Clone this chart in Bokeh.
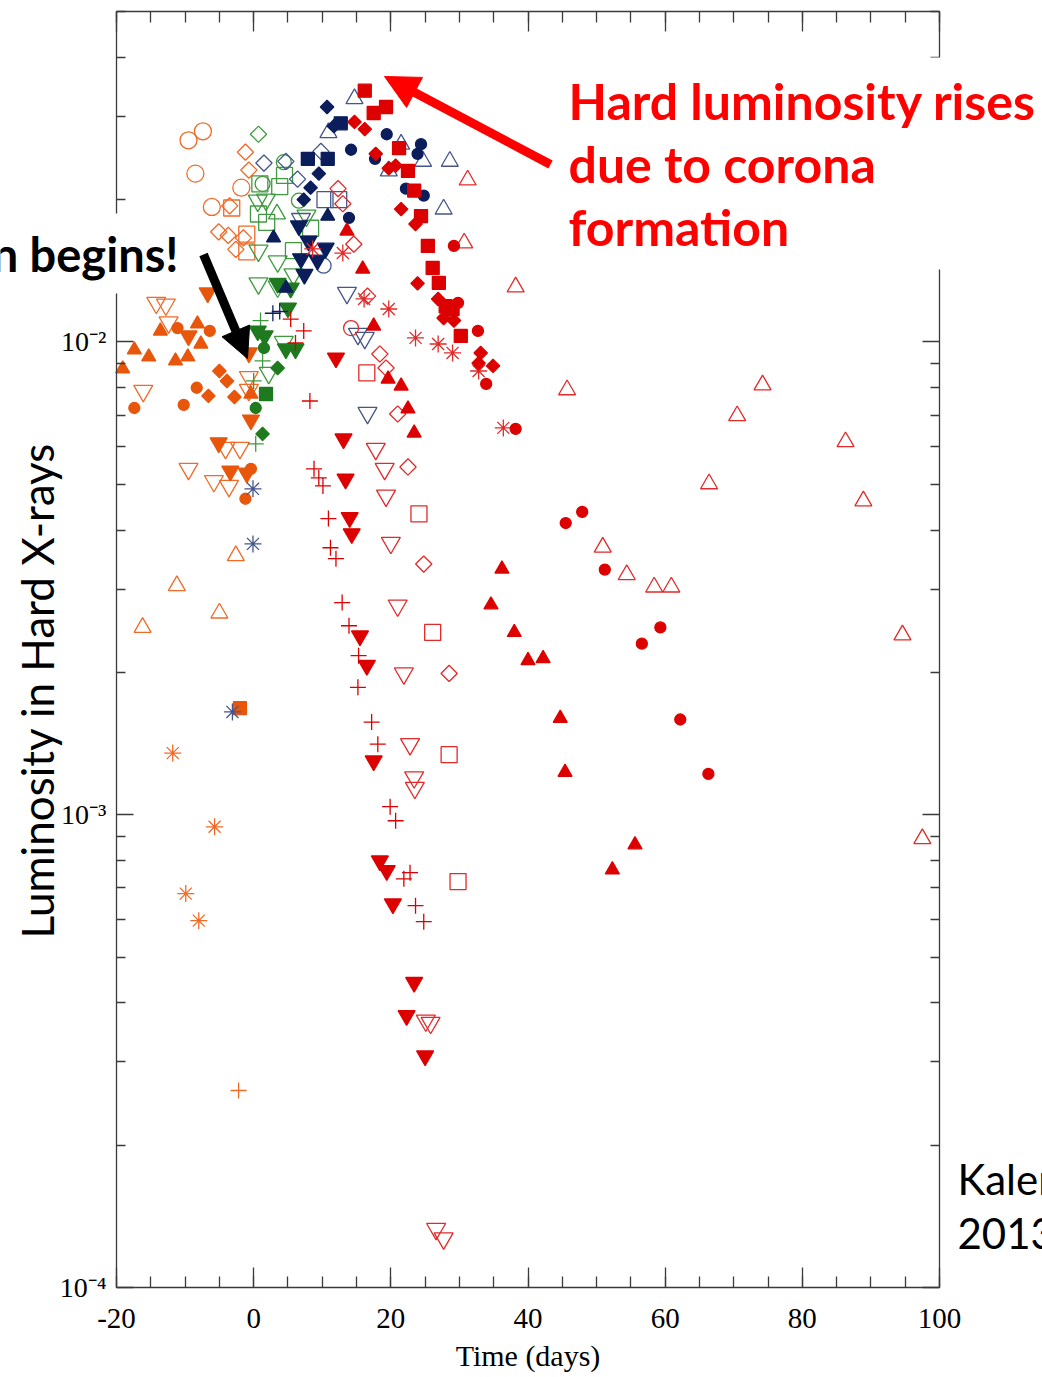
import numpy as np
from bokeh.plotting import figure
from bokeh.models import LinearAxis, LogAxis, FixedTicker, Label, Arrow, NormalHead, Range1d
from bokeh.embed import file_html
from bokeh.resources import INLINE

# ---------------- data (days, luminosity) ----------------
# orange
or_circle_open_x = [-9.5, -7.4, -8.5, -1.8, -6.1]
or_circle_open_y = [0.0267, 0.0279, 0.0227, 0.0212, 0.0193]
or_diamond_open_x = [-1.2, -0.7, -3.5, -5.1, -3.7, -2.6, -1.5]
or_diamond_open_y = [0.0252, 0.0231, 0.0194, 0.0171, 0.0168, 0.0157, 0.0166]
or_square_open_x = [-3.2, -1.0, -1.0]
or_square_open_y = [0.0192, 0.0169, 0.0155]
or_invtri_open_x = [-18.0, -14.2, -12.8, -12.4, -16.1, -9.5, -5.8, -3.6, -4.1, -2.0, -0.7, -0.7]
or_invtri_open_y = [0.0181, 0.0121, 0.0120, 0.0110, 0.00788, 0.00539, 0.00508, 0.00496, 0.00597, 0.00597, 0.00843, 0.00792]
or_invtri_fill_x = [-9.5, -6.7, -5.1, -3.4, -1.0, -0.4, -0.7]
or_invtri_fill_y = [0.0103, 0.0127, 0.00612, 0.00533, 0.00528, 0.00684, 0.00948]
or_tri_fill_x = [-19.1, -17.4, -15.3, -13.6, -11.4, -9.6, -8.2, -7.7, -0.4]
or_tri_fill_y = [0.00877, 0.00962, 0.0093, 0.01055, 0.00912, 0.0093, 0.01092, 0.0099, 0.00776]
or_circle_fill_x = [-11.1, -6.4, -8.3, -17.4, -10.2, -0.4, -1.2]
or_circle_fill_y = [0.0107, 0.01055, 0.0080, 0.00725, 0.00736, 0.00539, 0.00466]
or_diamond_fill_x = [-5.0, -3.9, -6.6, -2.8]
or_diamond_fill_y = [0.00868, 0.00827, 0.00769, 0.00765]
or_square_fill_x = [-2.0]
or_square_fill_y = [0.00168]
or_tri_open_x = [-2.6, -11.2, -5.0, -16.2]
or_tri_open_y = [0.00353, 0.00305, 0.00267, 0.00249]
or_star_x = [-11.8, -5.7, -9.9, -8.0]
or_star_y = [0.00135, 0.000943, 0.000681, 0.000597]
or_plus_x = [-2.2]
or_plus_y = [0.000261]

# green
gr_diamond_open_x = [0.7]
gr_diamond_open_y = [0.0275]
gr_square_open_x = [4.5, 0.9, 3.8, 0.7, 1.9, 5.8, 8.3]
gr_square_open_y = [0.0225, 0.0216, 0.0213, 0.01865, 0.0179, 0.0156, 0.0174]
gr_circle_open_x = [4.4, 1.3, 6.6]
gr_circle_open_y = [0.0240, 0.0216, 0.0199]
gr_tri_open_x = [3.4]
gr_tri_open_y = [0.01865]
gr_invtri_open_x = [0.6, 1.8, 0.7, 3.5, 5.8, 0.7, 3.5, 4.4, 2.2, 7.7]
gr_invtri_open_y = [0.0199, 0.0200, 0.0156, 0.0148, 0.0139, 0.0133, 0.0131, 0.0100, 0.0086, 0.0185]
gr_invtri_fill_x = [3.5, 5.4, 5.0, 0.6, 6.1, 4.7, 1.6]
gr_invtri_fill_y = [0.0133, 0.0130, 0.0118, 0.01055, 0.00967, 0.00967, 0.0103]
gr_circle_fill_x = [1.5, 0.3]
gr_circle_fill_y = [0.00971, 0.00725]
gr_diamond_fill_x = [3.5, 1.3]
gr_diamond_fill_y = [0.00881, 0.00639]
gr_square_fill_x = [1.8]
gr_square_fill_y = [0.00776]
gr_plus_x = [1.0, 0.3, 0.0, 1.3]
gr_plus_y = [0.0111, 0.00609, 0.00827, 0.00912]

# navy
nv_diamond_fill_x = [10.7, 9.5, 8.3, 7.3, 11.7]
nv_diamond_fill_y = [0.0314, 0.0227, 0.0212, 0.0200, 0.0286]
nv_square_fill_x = [7.9, 10.8, 12.7]
nv_square_fill_y = [0.0244, 0.0244, 0.0290]
nv_circle_fill_x = [14.2, 19.4, 24.4, 23.9, 22.2, 24.8, 13.9, 17.7]
nv_circle_fill_y = [0.0255, 0.0275, 0.0262, 0.0250, 0.0211, 0.0204, 0.0183, 0.0244]
nv_tri_open_x = [14.7, 10.9, 21.5, 24.7, 19.7, 28.6, 27.7]
nv_tri_open_y = [0.0327, 0.0277, 0.0262, 0.0241, 0.0230, 0.0241, 0.0191]
nv_diamond_open_x = [1.5, 6.4, 9.8, 4.7]
nv_diamond_open_y = [0.0239, 0.0221, 0.0253, 0.0241]
nv_square_open_x = [10.4, 12.4]
nv_square_open_y = [0.0200, 0.0200]
nv_circle_open_x = [10.2]
nv_circle_open_y = [0.0145]
nv_invtri_open_x = [6.9, 13.6, 15.2, 16.2, 16.6]
nv_invtri_open_y = [0.0182, 0.0127, 0.0104, 0.0102, 0.00708]
nv_invtri_fill_x = [6.6, 8.0, 10.5, 6.9, 9.3, 7.4]
nv_invtri_fill_y = [0.0176, 0.01635, 0.0158, 0.0150, 0.0149, 0.0139]
nv_tri_fill_x = [2.9, 10.8, 4.7]
nv_tri_fill_y = [0.0166, 0.01846, 0.0130]
nv_plus_x = [2.8, 3.8]
nv_plus_y = [0.0115, 0.0116]
nv_star_x = [-0.1, -0.1, -3.1]
nv_star_y = [0.00489, 0.00374, 0.00165]

# red
rd_square_fill_x = [16.2, 17.5, 19.3, 21.2, 22.5, 23.4, 24.4, 25.4, 26.1, 27.0, 28.0, 29.0, 30.2]
rd_square_fill_y = [0.0340, 0.0305, 0.0314, 0.0257, 0.0230, 0.0209, 0.01846, 0.01596, 0.01434, 0.01333, 0.0119, 0.01174, 0.0103]
rd_diamond_fill_x = [14.7, 16.2, 17.8, 20.7, 19.7, 21.5, 23.6, 23.9, 26.9, 27.7, 29.2, 33.1, 34.9, 32.8]
rd_diamond_fill_y = [0.0292, 0.0282, 0.0250, 0.0236, 0.0233, 0.0191, 0.01776, 0.0133, 0.01233, 0.01124, 0.0111, 0.00948, 0.0089, 0.00902]
rd_circle_fill_x = [29.2, 32.7, 29.8, 33.9, 38.2, 45.5, 47.9, 51.2, 59.3, 56.6, 62.2, 66.3]
rd_circle_fill_y = [0.01596, 0.01055, 0.0121, 0.00815, 0.00655, 0.00414, 0.00437, 0.0033, 0.00249, 0.0023, 0.00159, 0.00122]
rd_tri_fill_x = [13.6, 15.9, 17.5, 19.6, 21.5, 22.5, 23.4, 36.2, 34.6, 38.0, 40.0, 42.2, 44.7, 45.4, 55.6, 52.3]
rd_tri_fill_y = [0.01717, 0.01427, 0.01081, 0.00835, 0.00807, 0.00722, 0.00642, 0.00331, 0.00278, 0.00243, 0.00212, 0.00214, 0.0016, 0.00123, 0.000864, 0.000765]
rd_invtri_fill_x = [12.0, 13.1, 13.4, 14.0, 14.3, 15.5, 16.5, 17.5, 18.4, 19.4, 20.3, 23.4, 22.3, 25.0]
rd_invtri_fill_y = [0.00925, 0.00624, 0.00513, 0.00425, 0.00393, 0.00239, 0.00207, 0.0013, 0.000799, 0.000762, 0.000648, 0.000442, 0.000376, 0.000309]
rd_plus_x = [5.4, 7.3, 6.1, 8.2, 8.8, 9.5, 10.1, 10.9, 11.2, 12.0, 12.9, 13.9, 15.3, 15.2, 17.2, 18.1, 19.9, 20.7, 22.8, 21.9, 23.6, 24.8]
rd_plus_y = [0.01118, 0.01055, 0.00995, 0.0075, 0.00539, 0.00516, 0.00496, 0.00423, 0.00367, 0.00348, 0.00281, 0.00251, 0.00217, 0.00186, 0.00157, 0.00141, 0.00104, 0.000971, 0.000754, 0.000732, 0.000642, 0.000594]
rd_star_x = [8.6, 13.0, 16.1, 19.7, 23.6, 26.9, 29.0, 32.8, 36.4]
rd_star_y = [0.01573, 0.01542, 0.01233, 0.01174, 0.0102, 0.0099, 0.00948, 0.00868, 0.00658]
rd_tri_open_x = [31.2, 30.7, 38.2, 45.7, 74.2, 70.5, 86.3, 66.4, 88.9, 50.9, 54.4, 58.4, 60.9, 94.6, 97.5]
rd_tri_open_y = [0.0220, 0.01619, 0.01307, 0.00792, 0.00811, 0.00698, 0.00615, 0.00501, 0.00461, 0.00368, 0.00322, 0.00303, 0.00303, 0.0024, 0.00089]
rd_invtri_open_x = [17.8, 19.1, 19.3, 20.0, 21.0, 21.9, 22.8, 23.4, 23.5, 25.1, 25.8, 26.6, 27.7]
rd_invtri_open_y = [0.00594, 0.00539, 0.00473, 0.00376, 0.00277, 0.00199, 0.00141, 0.0012, 0.00114, 0.000367, 0.000363, 0.000133, 0.000127]
rd_diamond_open_x = [12.3, 13.0, 14.6, 16.6, 18.4, 19.3, 21.0, 22.5, 24.8, 28.5]
rd_diamond_open_y = [0.0211, 0.0196, 0.0161, 0.0125, 0.00943, 0.00881, 0.00704, 0.00544, 0.00339, 0.00199]
rd_square_open_x = [16.5, 24.1, 26.1, 28.5, 29.8]
rd_square_open_y = [0.0086, 0.00433, 0.00243, 0.00134, 0.000722]
rd_circle_open_x = [14.2]
rd_circle_open_y = [0.0107]

x_ticks = [-20, 0, 20, 40, 60, 80, 100]
x_tick_labels = {-20: "-20"}
y_ticks = [1e-4, 1e-3, 1e-2]
y_tick_labels = {1e-4: "10\u207b\u2074", 1e-3: "10\u207b\u00b3", 1e-2: "10\u207b\u00b2"}

# ---------------- layout ----------------
W, H = 1042, 1377
FL, FR, FT, FB = 116, 939, 11, 1287          # plot box in page pixels
XMIN, XMAX = -20, 100
YMIN, YMAX = 1e-4, 0.05
KX = (XMAX - XMIN) / (FR - FL)
KY = (np.log10(YMAX) - np.log10(YMIN)) / (FB - FT)


def X(px):
    return XMIN + (px - FL) * KX


def Y(py):
    return 10 ** (np.log10(YMAX) - (py - FT) * KY)


p = figure(width=W, height=H, x_range=Range1d(X(0), X(W)), y_range=Range1d(Y(H), Y(0)),
           y_axis_type="log", x_axis_location=None, y_axis_location=None,
           output_backend="svg", toolbar_location=None, min_border=0,
           outline_line_color=None, background_fill_color="white",
           border_fill_color="white")
p.grid.visible = False

xt = FixedTicker(ticks=x_ticks, minor_ticks=list(range(-20, 101, 5)))
minor_y = [m * d for d in (1e-4, 1e-3, 1e-2) for m in range(2, 10) if m * d <= YMAX]
yt = FixedTicker(ticks=y_ticks, minor_ticks=minor_y)

AX = "#3a3a3a"


def style(ax, major_in, minor_in):
    ax.axis_line_color = AX
    ax.axis_line_width = 1.3
    ax.major_tick_line_color = AX
    ax.minor_tick_line_color = AX
    ax.major_tick_line_width = 1.3
    ax.minor_tick_line_width = 1.3
    ax.major_tick_in = major_in
    ax.major_tick_out = 0
    ax.minor_tick_in = minor_in
    ax.minor_tick_out = 0


xb = LinearAxis(ticker=xt, fixed_location=YMIN, bounds=(XMIN, XMAX))
style(xb, 20, 11)
xb.major_label_text_font = "Liberation Serif"
xb.major_label_text_font_size = "29px"
xb.major_label_text_color = "black"
xb.major_label_standoff = 21
xb.major_label_overrides = x_tick_labels
xb.axis_label = "Time (days)"
xb.axis_label_text_font = "Liberation Serif"
xb.axis_label_text_font_size = "30px"
xb.axis_label_text_font_style = "normal"
xb.axis_label_text_color = "black"
xb.axis_label_standoff = 8
p.add_layout(xb, "below")

yl = LogAxis(ticker=yt, fixed_location=XMIN, bounds=(YMIN, YMAX))
style(yl, 17, 9)
yl.major_label_text_font = "Liberation Serif"
yl.major_label_text_font_size = "28px"
yl.major_label_text_color = "black"
yl.major_label_standoff = 10
yl.major_label_overrides = y_tick_labels
p.add_layout(yl, "left")

xa = LinearAxis(ticker=xt, fixed_location=YMAX, bounds=(XMIN, XMAX),
                major_label_text_alpha=0, major_label_text_font_size="1px")
style(xa, 20, 11)
p.add_layout(xa, "above")
yr = LogAxis(ticker=yt, fixed_location=XMAX, bounds=(YMIN, YMAX),
             major_label_text_alpha=0, major_label_text_font_size="1px")
style(yr, 17, 9)
p.add_layout(yr, "right")

OR_F, OR_O = "#e8560c", "#f06a28"
GR_F, GR_O = "#1f7a1f", "#3f9a3f"
NV_F, NV_O = "#0b1e5b", "#45568a"
RD_F, RD_O = "#dd0000", "#e12a2a"


def add(xs, ys, marker, color, filled, size, angle=0.0, lw=1.3):
    p.scatter(xs, ys, marker=marker, size=size, angle=angle,
              fill_color=color if filled else None, line_color=color, line_width=lw)


D = np.pi / 4
groups = [
    # orange
    (or_circle_open_x, or_circle_open_y, "circle", OR_O, False, 17, 0),
    (or_diamond_open_x, or_diamond_open_y, "square", OR_O, False, 11.5, D),
    (or_square_open_x, or_square_open_y, "square", OR_O, False, 16, 0),
    (or_invtri_open_x, or_invtri_open_y, "inverted_triangle", OR_O, False, 19, 0),
    (or_tri_open_x, or_tri_open_y, "triangle", OR_O, False, 17, 0),
    (or_star_x, or_star_y, "asterisk", OR_O, False, 17, 0),
    (or_plus_x, or_plus_y, "cross", OR_O, False, 16, 0),
    (or_invtri_fill_x, or_invtri_fill_y, "inverted_triangle", OR_F, True, 17, 0),
    (or_tri_fill_x, or_tri_fill_y, "triangle", OR_F, True, 14, 0),
    (or_circle_fill_x, or_circle_fill_y, "circle", OR_F, True, 11, 0),
    (or_diamond_fill_x, or_diamond_fill_y, "square", OR_F, True, 9.5, D),
    (or_square_fill_x, or_square_fill_y, "square", OR_F, True, 13, 0),
    # green
    (gr_diamond_open_x, gr_diamond_open_y, "square", GR_O, False, 11.5, D),
    (gr_square_open_x, gr_square_open_y, "square", GR_O, False, 16, 0),
    (gr_circle_open_x, gr_circle_open_y, "circle", GR_O, False, 15, 0),
    (gr_tri_open_x, gr_tri_open_y, "triangle", GR_O, False, 17, 0),
    (gr_invtri_open_x, gr_invtri_open_y, "inverted_triangle", GR_O, False, 19, 0),
    (gr_plus_x, gr_plus_y, "cross", GR_O, False, 16, 0),
    (gr_invtri_fill_x, gr_invtri_fill_y, "inverted_triangle", GR_F, True, 17, 0),
    (gr_circle_fill_x, gr_circle_fill_y, "circle", GR_F, True, 11, 0),
    (gr_diamond_fill_x, gr_diamond_fill_y, "square", GR_F, True, 9.5, D),
    (gr_square_fill_x, gr_square_fill_y, "square", GR_F, True, 13, 0),
    # navy
    (nv_tri_open_x, nv_tri_open_y, "triangle", NV_O, False, 17, 0),
    (nv_diamond_open_x, nv_diamond_open_y, "square", NV_O, False, 11.5, D),
    (nv_square_open_x, nv_square_open_y, "square", NV_O, False, 16, 0),
    (nv_circle_open_x, nv_circle_open_y, "circle", NV_O, False, 15, 0),
    (nv_invtri_open_x, nv_invtri_open_y, "inverted_triangle", NV_O, False, 19, 0),
    (nv_plus_x, nv_plus_y, "cross", NV_F, False, 16, 0),
    (nv_star_x, nv_star_y, "asterisk", NV_O, False, 17, 0),
    (nv_diamond_fill_x, nv_diamond_fill_y, "square", NV_F, True, 9.5, D),
    (nv_square_fill_x, nv_square_fill_y, "square", NV_F, True, 13, 0),
    (nv_circle_fill_x, nv_circle_fill_y, "circle", NV_F, True, 11, 0),
    (nv_invtri_fill_x, nv_invtri_fill_y, "inverted_triangle", NV_F, True, 17, 0),
    (nv_tri_fill_x, nv_tri_fill_y, "triangle", NV_F, True, 14, 0),
    # red
    (rd_tri_open_x, rd_tri_open_y, "triangle", RD_O, False, 17, 0),
    (rd_invtri_open_x, rd_invtri_open_y, "inverted_triangle", RD_O, False, 19, 0),
    (rd_diamond_open_x, rd_diamond_open_y, "square", RD_O, False, 11.5, D),
    (rd_square_open_x, rd_square_open_y, "square", RD_O, False, 16, 0),
    (rd_circle_open_x, rd_circle_open_y, "circle", RD_O, False, 15, 0),
    (rd_plus_x, rd_plus_y, "cross", RD_F, False, 16, 0),
    (rd_star_x, rd_star_y, "asterisk", RD_O, False, 17, 0),
    (rd_square_fill_x, rd_square_fill_y, "square", RD_F, True, 13, 0),
    (rd_diamond_fill_x, rd_diamond_fill_y, "square", RD_F, True, 9.5, D),
    (rd_circle_fill_x, rd_circle_fill_y, "circle", RD_F, True, 11, 0),
    (rd_tri_fill_x, rd_tri_fill_y, "triangle", RD_F, True, 14, 0),
    (rd_invtri_fill_x, rd_invtri_fill_y, "inverted_triangle", RD_F, True, 17, 0),
]
for gx, gy, mk, col, filled, sz, ang in groups:
    add(gx, gy, mk, col, filled, sz, ang)

# ---------------- annotations ----------------
p.add_layout(Label(x=X(36), y=Y(690), text="Luminosity in Hard X-rays", angle=np.pi / 2,
                   text_align="center", text_baseline="middle", text_font="Lato",
                   text_font_size="44px", text_color="black"))

p.add_layout(Label(x=X(190), y=Y(213), text="n begins!", text_align="right",
                   text_baseline="top", text_font="Lato", text_font_style="bold",
                   text_font_size="47px", text_color="black",
                   background_fill_color="white", padding=12))

p.add_layout(Label(x=X(555), y=Y(57), text="Hard luminosity rises\ndue to corona\nformation",
                   text_align="left", text_baseline="top", text_font="Lato",
                   text_font_style="bold", text_font_size="50px", text_color="#ff0000",
                   text_line_height=1.05, background_fill_color="white", padding=13))

p.add_layout(Label(x=X(957), y=Y(1153), text="Kalen", text_align="left",
                   text_baseline="top", text_font="Lato", text_font_size="42px",
                   text_color="black"))
p.add_layout(Label(x=X(957), y=Y(1217), text="2013", text_align="left",
                   text_baseline="top", text_font="Lato", text_font_size="42px",
                   text_color="black"))

p.add_layout(Arrow(end=NormalHead(size=34, fill_color="#ff0000", line_color="#ff0000"),
                   x_start=X(550), y_start=Y(164), x_end=X(384), y_end=Y(76),
                   line_color="#ff0000", line_width=9))
p.add_layout(Arrow(end=NormalHead(size=30, fill_color="black", line_color="black"),
                   x_start=X(203), y_start=Y(254), x_end=X(247), y_end=Y(358),
                   line_color="black", line_width=9))

open("out.html", "w").write(file_html(p, INLINE))
